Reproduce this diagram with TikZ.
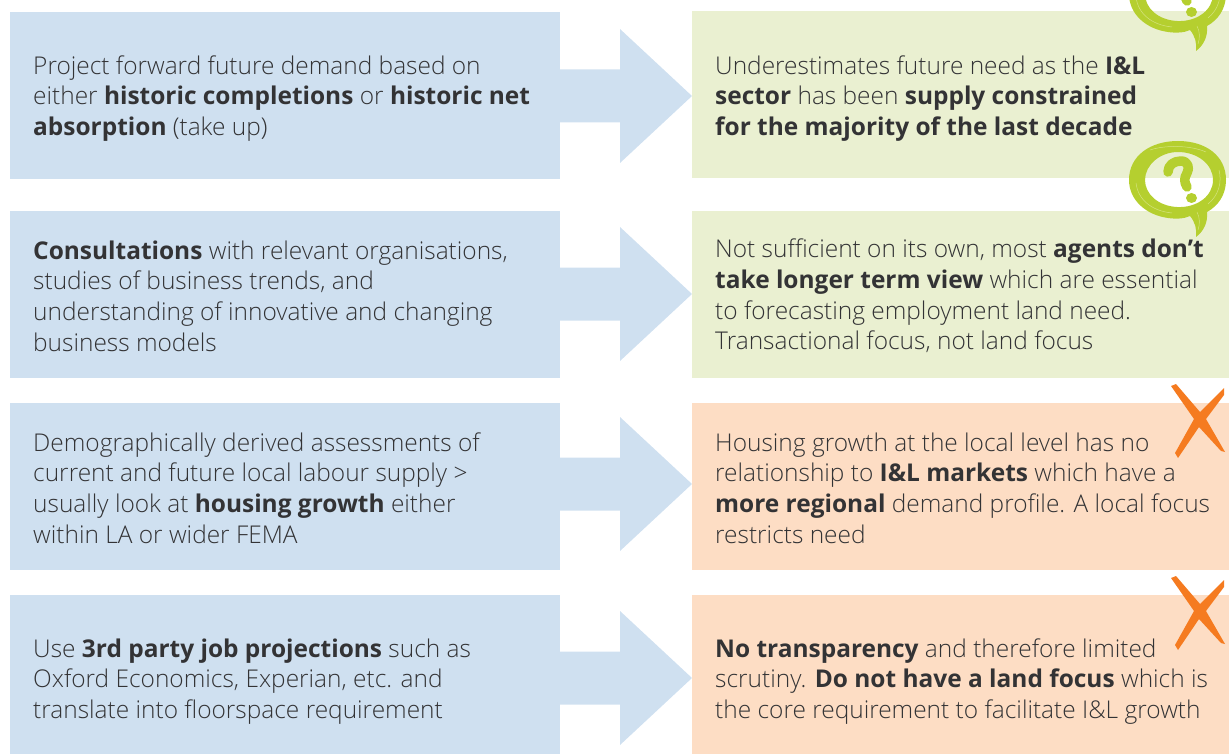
\documentclass[tikz,border=0pt]{standalone}
\usepackage{fontspec}
\setmainfont{Open Sans Light}[BoldFont={Open Sans Bold}]
\definecolor{bluebox}{HTML}{CFE0F0}
\definecolor{greenbox}{HTML}{EAF0D1}
\definecolor{orangebox}{HTML}{FDDDC4}
\definecolor{limeink}{HTML}{B5CF2F}
\definecolor{limestreak}{HTML}{D4E37F}
\definecolor{crossink}{HTML}{F57B20}
\definecolor{bodyink}{HTML}{333335}
\tikzset{
  leftbox/.style={fill=bluebox,minimum width=550pt,minimum height=167pt,anchor=north west,inner sep=0pt},
  goodbox/.style={fill=greenbox,minimum width=537pt,minimum height=167pt,anchor=north west,inner sep=0pt},
  badbox/.style={fill=orangebox,minimum width=537pt,minimum height=167pt,anchor=north west,inner sep=0pt},
  bodytext/.style={anchor=west,inner sep=0pt,align=left,text=bodyink,font=\fontsize{24.45pt}{30.6pt}\selectfont},
  arrowshape/.style={fill=bluebox},
}
\newcommand{\flowarrow}[1]{%
  \fill[arrowshape] (#1) -- ++(-72,-67) -- ++(0,40.5) -- ++(-60,0) -- ++(0,53) -- ++(60,0) -- ++(0,40.5) -- cycle;}
\newcommand{\speech}[2]{%
  \begin{scope}[shift={(#1,#2)}]
    \fill[limeink,even odd rule]
      (1129,180) .. controls (1129,156) and (1150,141) .. (1178,141)
      .. controls (1206,141) and (1226,156) .. (1226,180)
      .. controls (1226,195) and (1218,206) .. (1207,212)
      .. controls (1208,222) and (1204,231) .. (1196,237)
      .. controls (1197,229) and (1195,222) .. (1190,216)
      .. controls (1184,219) and (1175,219) .. (1168,218)
      .. controls (1146,215) and (1129,200) .. (1129,180) -- cycle
      (1145,180) .. controls (1145,194) and (1158,206) .. (1177,207)
      .. controls (1197,208) and (1213,196) .. (1213,180)
      .. controls (1213,164) and (1197,152) .. (1178,152)
      .. controls (1160,152) and (1145,165) .. (1145,180) -- cycle;
    \draw[limestreak,line width=.5pt]
      (1136,183) .. controls (1138,200) and (1152,211) .. (1172,213)
      (1150,150) .. controls (1165,145) and (1190,145) .. (1206,152)
      (1219,170) .. controls (1222,182) and (1219,195) .. (1208,204)
      (1197,212) .. controls (1200,218) and (1200,224) .. (1198,230);
    \draw[limeink,line width=9.5pt,line cap=round,line join=round]
      (1168,172) .. controls (1168,165) and (1174,161) .. (1181,161)
      .. controls (1188,161) and (1190,168) .. (1187,173)
      .. controls (1184,178) and (1184,182) .. (1187,187);
    \fill[limeink] (1191.5,198) ellipse (5.5pt and 5pt);
  \end{scope}}
\newcommand{\crossmark}[1]{%
  \begin{scope}[yshift=#1]
    \fill[crossink] (1171,386) -- (1176,384) -- (1200,412) -- (1224,388) -- (1224,395) -- (1206,419)
      -- (1225,452) -- (1221,451) -- (1199,427) -- (1178,458) -- (1175,453) -- (1194,419) -- cycle;
  \end{scope}}
\begin{document}
\begin{tikzpicture}[x=1pt,y=-1pt]
  \useasboundingbox (0,0) rectangle (1229,754);
  \clip (0,0) rectangle (1229,754);
  \node[leftbox] (b1) at (10,12) {};
  \node[leftbox] (b2) at (10,211) {};
  \node[leftbox] (b3) at (10,403) {};
  \node[leftbox] (b4) at (10,595) {};
  \node[goodbox] (g1) at (692,11) {};
  \node[goodbox] (g2) at (692,211) {};
  \node[badbox] (o3) at (692,403) {};
  \node[badbox] (o4) at (692,595) {};
  \coordinate (t1) at (692,96);
  \coordinate (t2) at (692,294);
  \coordinate (t3) at (692,484);
  \coordinate (t4) at (692,678);
  \flowarrow{t1}\flowarrow{t2}\flowarrow{t3}\flowarrow{t4}
  \speech{0}{-186}
  \speech{0}{0}
  \crossmark{0pt}
  \crossmark{-192pt}
  \node[bodytext] (l1) at (33,98.5) {Project forward future demand based on\\either \textbf{historic completions} or \textbf{historic net}\\\textbf{absorption} (take up)};
  \node[bodytext] (l2) at (33,296) {\textbf{Consultations} with relevant organisations,\\studies of business trends, and\\understanding of innovative and changing\\business models};
  \node[bodytext] (l3) at (33,488) {Demographically derived assessments of\\current and future local labour supply >\\usually look at \textbf{housing growth} either\\within LA or wider FEMA};
  \node[bodytext] (l4) at (33,681.5) {Use \textbf{3rd party job projections} such as\\Oxford Economics, Experian, etc. and\\translate into floorspace requirement};
  \node[bodytext] (r1) at (715,98.5) {Underestimates future need as the \textbf{I\&L}\\\textbf{sector} has been \textbf{supply constrained}\\\textbf{for the majority of the last decade}};
  \node[bodytext] (r2) at (715,296) {Not sufficient on its own, most \textbf{agents don’t}\\\textbf{take longer term view} which are essential\\to forecasting employment land need.\\Transactional focus, not land focus};
  \node[bodytext] (r3) at (715,488) {Housing growth at the local level has no\\relationship to \textbf{I\&L markets} which have a\\\textbf{more regional} demand profile. A local focus\\restricts need};
  \node[bodytext] (r4) at (715,681.5) {\textbf{No transparency} and therefore limited\\scrutiny. \textbf{Do not have a land focus} which is\\the core requirement to facilitate I\&L growth};
\end{tikzpicture}
\end{document}
